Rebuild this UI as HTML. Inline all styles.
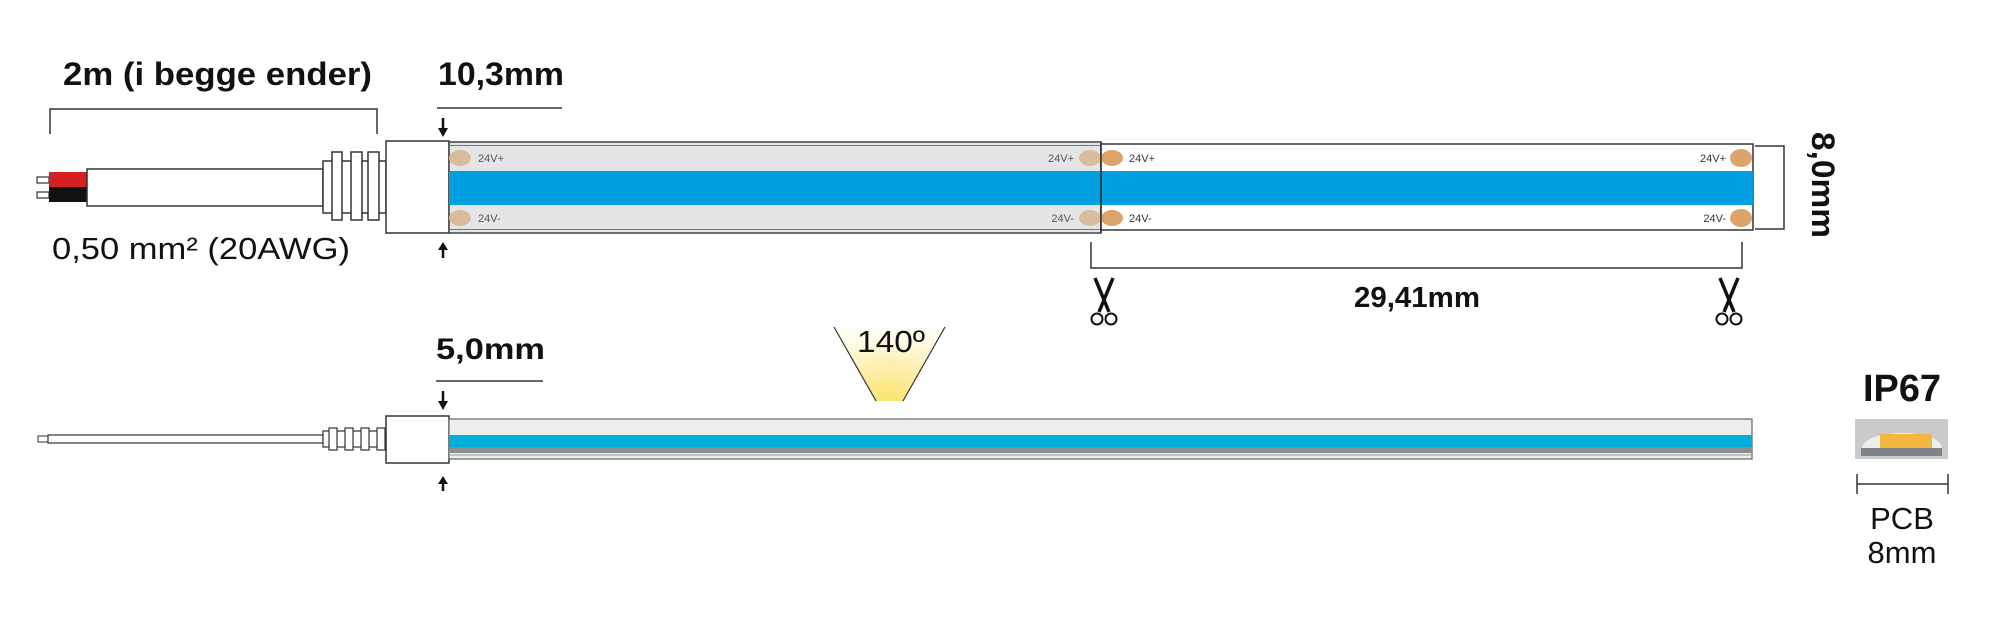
<!DOCTYPE html>
<html><head><meta charset="utf-8"><style>
html,body{margin:0;padding:0;background:#fff;}
svg{display:block;}
text{font-family:"Liberation Sans",Arial,sans-serif;}
.b{font-weight:bold;fill:#111;}
.r{fill:#111;}
.s{font-size:11px;fill:#555;}
</style></head><body>
<svg width="2000" height="634" viewBox="0 0 2000 634" xmlns="http://www.w3.org/2000/svg">
<defs>
<radialGradient id="glow" cx="0.5" cy="1" r="0.9">
<stop offset="0" stop-color="#fbe36a"/><stop offset="0.6" stop-color="#fdf1b8"/><stop offset="1" stop-color="#fffdf0"/>
</radialGradient>
<g id="sc">
<line x1="-9" y1="0" x2="5" y2="34" stroke="#111" stroke-width="3.5"/>
<line x1="9" y1="0" x2="-5" y2="34" stroke="#111" stroke-width="3.5"/>
<circle cx="-7" cy="41" r="5.5" fill="none" stroke="#111" stroke-width="2"/>
<circle cx="7" cy="41" r="5.5" fill="none" stroke="#111" stroke-width="2"/>
</g>
</defs>

<!-- top labels -->
<text class="b" x="63" y="85" font-size="32" textLength="309" lengthAdjust="spacingAndGlyphs">2m (i begge ender)</text>
<polyline points="50,134 50,109 377,109 377,134" fill="none" stroke="#333" stroke-width="1.5"/>
<text class="b" x="438" y="85" font-size="32" textLength="126" lengthAdjust="spacingAndGlyphs">10,3mm</text>
<line x1="437" y1="108" x2="562" y2="108" stroke="#333" stroke-width="1.5"/>
<line x1="443" y1="118" x2="443" y2="130" stroke="#111" stroke-width="2.5"/><polygon points="438,128 448,128 443,137" fill="#111"/>
<line x1="443" y1="258" x2="443" y2="248" stroke="#111" stroke-width="2.5"/><polygon points="438,250 448,250 443,242" fill="#111"/>
<text class="r" x="52" y="259" font-size="31" textLength="298" lengthAdjust="spacingAndGlyphs">0,50 mm² (20AWG)</text>

<!-- top cable -->
<rect x="37" y="177" width="12" height="6" fill="#fff" stroke="#333" stroke-width="1.2"/>
<rect x="37" y="192" width="12" height="6" fill="#fff" stroke="#333" stroke-width="1.2"/>
<rect x="49" y="172" width="38" height="15" fill="#d42020"/>
<rect x="49" y="187" width="38" height="15" fill="#111"/>
<rect x="87" y="169" width="236" height="37" fill="#fff" stroke="#333" stroke-width="1.5"/>
<rect x="323" y="161" width="63" height="52" fill="#fff" stroke="#333" stroke-width="1.5"/>
<rect x="332" y="152" width="10" height="68" fill="#fff" stroke="#333" stroke-width="1.5"/>
<rect x="351" y="152" width="11" height="68" fill="#fff" stroke="#333" stroke-width="1.5"/>
<rect x="368" y="152" width="11" height="68" fill="#fff" stroke="#333" stroke-width="1.5"/>
<rect x="386" y="141" width="63" height="92" fill="#fff" stroke="#333" stroke-width="1.5"/>

<!-- sleeve strip -->
<rect x="449" y="142" width="652" height="91" fill="#e4e5e6" stroke="#444" stroke-width="1.5"/>
<line x1="449" y1="145.5" x2="1101" y2="145.5" stroke="#777" stroke-width="1"/>
<line x1="449" y1="229.5" x2="1101" y2="229.5" stroke="#777" stroke-width="1"/>
<rect x="449" y="171" width="652" height="34" fill="#009fe0"/>
<ellipse cx="460" cy="158" rx="11" ry="8" fill="#d8bc9c"/>
<ellipse cx="460" cy="218" rx="11" ry="8" fill="#d8bc9c"/>
<ellipse cx="1090" cy="158" rx="11" ry="8" fill="#d8bc9c"/>
<ellipse cx="1090" cy="218" rx="11" ry="8" fill="#d8bc9c"/>
<text class="s" x="478" y="162">24V+</text>
<text class="s" x="478" y="222">24V-</text>
<text class="s" x="1074" y="162" text-anchor="end">24V+</text>
<text class="s" x="1074" y="222" text-anchor="end">24V-</text>

<!-- open strip -->
<rect x="1101" y="144" width="652" height="86" fill="#fff" stroke="#333" stroke-width="1.5"/>
<rect x="1101" y="171" width="652" height="34" fill="#009fe0"/>
<ellipse cx="1112" cy="158" rx="11" ry="8" fill="#dca46a"/>
<ellipse cx="1112" cy="218" rx="11" ry="8" fill="#dca46a"/>
<ellipse cx="1741" cy="158" rx="11" ry="9" fill="#dca46a"/>
<ellipse cx="1741" cy="218" rx="11" ry="9" fill="#dca46a"/>
<line x1="1101" y1="142" x2="1101" y2="233" stroke="#333" stroke-width="1.5"/>
<text class="s" x="1129" y="162" style="fill:#333">24V+</text>
<text class="s" x="1129" y="222" style="fill:#333">24V-</text>
<text class="s" x="1726" y="162" text-anchor="end" style="fill:#333">24V+</text>
<text class="s" x="1726" y="222" text-anchor="end" style="fill:#333">24V-</text>

<polyline points="1755,146 1784,146 1784,229 1755,229" fill="none" stroke="#333" stroke-width="1.5"/>
<text class="b" font-size="32" transform="translate(1812,132) rotate(90)" textLength="106" lengthAdjust="spacingAndGlyphs">8,0mm</text>

<polyline points="1091,242 1091,268 1742,268 1742,242" fill="none" stroke="#333" stroke-width="1.5"/>
<use href="#sc" x="1104" y="278"/>
<use href="#sc" x="1729" y="278"/>
<text class="b" x="1354" y="307" font-size="29" textLength="126" lengthAdjust="spacingAndGlyphs">29,41mm</text>

<!-- bottom row -->
<text class="b" x="436" y="359" font-size="30" textLength="109" lengthAdjust="spacingAndGlyphs">5,0mm</text>
<line x1="436" y1="381" x2="543" y2="381" stroke="#333" stroke-width="1.5"/>
<line x1="443" y1="391" x2="443" y2="403" stroke="#111" stroke-width="2.5"/><polygon points="438,401 448,401 443,410" fill="#111"/>
<line x1="443" y1="491" x2="443" y2="482" stroke="#111" stroke-width="2.5"/><polygon points="438,484 448,484 443,476" fill="#111"/>

<polygon points="834,327 945,327 903,401 876,401" fill="url(#glow)"/>
<line x1="834" y1="327" x2="876" y2="401" stroke="#333" stroke-width="1.2"/>
<line x1="945" y1="327" x2="903" y2="401" stroke="#333" stroke-width="1.2"/>
<text class="r" x="857" y="352" font-size="31" textLength="68" lengthAdjust="spacingAndGlyphs">140º</text>

<rect x="38" y="436" width="10" height="6" fill="#fff" stroke="#333" stroke-width="1"/>
<rect x="48" y="435" width="275" height="8" fill="#fff" stroke="#333" stroke-width="1.2"/>
<rect x="323" y="431" width="63" height="16" fill="#fff" stroke="#333" stroke-width="1.2"/>
<rect x="329" y="428" width="8" height="22" fill="#fff" stroke="#333" stroke-width="1.2"/>
<rect x="345" y="428" width="8" height="22" fill="#fff" stroke="#333" stroke-width="1.2"/>
<rect x="361" y="428" width="8" height="22" fill="#fff" stroke="#333" stroke-width="1.2"/>
<rect x="377" y="428" width="8" height="22" fill="#fff" stroke="#333" stroke-width="1.2"/>
<rect x="386" y="416" width="63" height="47" fill="#fff" stroke="#333" stroke-width="1.5"/>

<rect x="449" y="419" width="1303" height="40" fill="#eceded" stroke="#666" stroke-width="1.2"/>
<rect x="449" y="435" width="1303" height="12" fill="#00aedc"/>
<rect x="449" y="447" width="1303" height="6" fill="#8a8f93"/>
<line x1="449" y1="455" x2="1752" y2="455" stroke="#999" stroke-width="1"/>

<!-- IP67 -->
<text class="b" x="1863" y="401" font-size="38" textLength="78" lengthAdjust="spacingAndGlyphs">IP67</text>
<rect x="1855" y="419" width="93" height="40" fill="#c9cacc"/>
<path d="M1862,448 C1864,428 1940,428 1942,448 Z" fill="#eeeeee"/>
<rect x="1880" y="434" width="52" height="14" fill="#f3b740"/>
<rect x="1861" y="448" width="81" height="8" fill="#7e8489"/>
<polyline points="1857,474 1857,494 1857,484 1948,484 1948,474 1948,494" fill="none" stroke="#333" stroke-width="1.5"/>
<text class="r" x="1902" y="529" font-size="31" text-anchor="middle">PCB</text>
<text class="r" x="1902" y="563" font-size="31" text-anchor="middle">8mm</text>
</svg>
</body></html>
